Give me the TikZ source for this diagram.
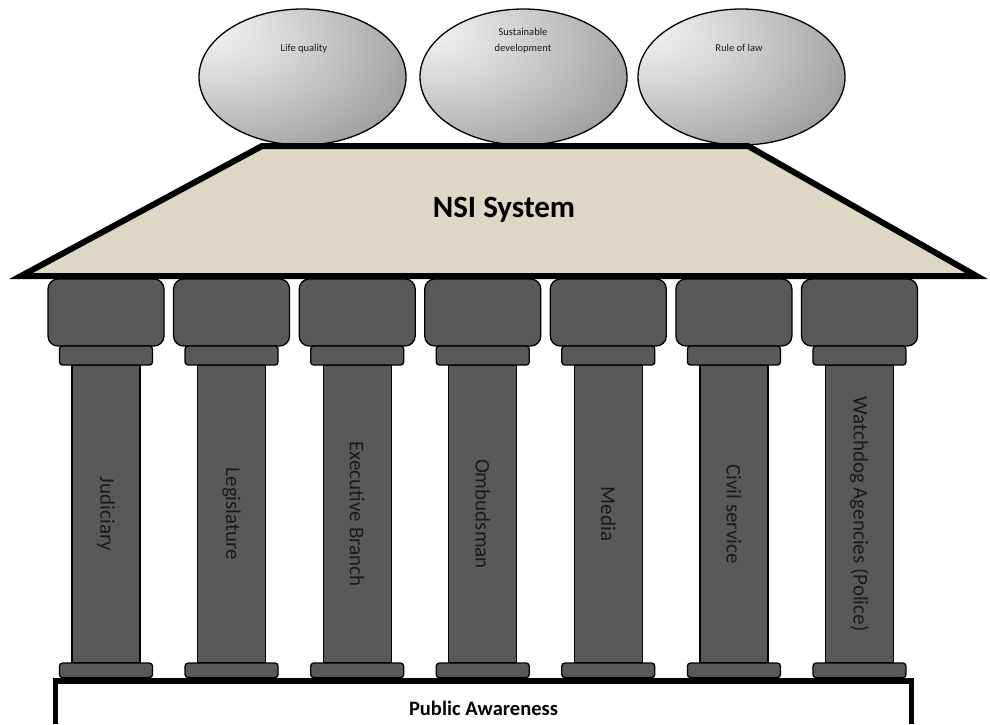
\documentclass[tikz,border=0pt]{standalone}
\usepackage{fontspec}
\setmainfont{Carlito}
\usetikzlibrary{shapes.geometric}
\definecolor{roof}{HTML}{DDD8C3}
\definecolor{colgray}{HTML}{595959}
\definecolor{labtext}{HTML}{1A1A1A}
\pgfdeclareradialshading{ellshade}{\pgfpoint{-24bp}{18bp}}{color(0bp)=(white!96!black); color(18bp)=(white!83!black); color(42bp)=(white!63!black); color(62bp)=(white!46!black); color(100bp)=(white!42!black)}
\tikzset{
  bubble/.style={ellipse, draw=black, line width=1.3pt, shading=ellshade, minimum width=207pt, minimum height=136pt, inner sep=0pt},
  bubbletext/.style={font=\fontsize{10.5}{16}\selectfont, text=labtext, align=center, anchor=base},
  capital/.style={draw=black, fill=colgray, line width=1.3pt, rounded corners=10pt, minimum width=116pt, minimum height=67pt, inner sep=0pt},
  ring/.style={draw=black, fill=colgray, line width=1.3pt, rounded corners=3pt, minimum width=93pt, inner sep=0pt},
  shaftbox/.style={draw=black, fill=colgray, line width=1.3pt, minimum width=68pt, minimum height=298pt, inner sep=0pt},
  pillartext/.style={rotate=-90, font=\fontsize{21}{25}\selectfont, text=labtext, inner sep=0pt},
}
\begin{document}
\begin{tikzpicture}[x=1pt, y=-1pt]
\useasboundingbox (0,0) rectangle (990,724);
% goals
\node[bubble] (e1) at (302.5,77) {};
\node[bubble] (e2) at (523.5,77) {};
\node[bubble] (e3) at (741.5,77) {};
\node[bubbletext] (t1) at (304,51.5) {Life quality};
\node[bubbletext] (t2) at (523,51) {Sustainable\\development};
\node[bubbletext] (t3) at (739,51) {Rule of law};
% roof
\coordinate (rTL) at (262,146);
\coordinate (rTR) at (748,146);
\coordinate (rBR) at (976.5,276);
\coordinate (rBL) at (21,276);
\draw[line width=6pt, fill=roof] (rTL) -- (rTR) -- (rBR) -- (rBL) -- cycle;
\node[font=\bfseries\fontsize{31}{36}\selectfont, anchor=base] (nsi) at (504,217) {NSI System};
% pillars
\foreach \i/\lab in {0/Judiciary,1/Legislature,2/Executive Branch,3/Ombudsman,4/Media,5/Civil service,6/Watchdog Agencies (Police)} {
  \pgfmathsetmacro{\cx}{106+125.58*\i}
  \node[shaftbox] (shaft\i) at (\cx,514) {};
  \node[capital] (cap\i) at (\cx,312.5) {};
  \node[ring, minimum height=19pt] (abacus\i) at (\cx,355.5) {};
  \node[ring, minimum height=14.5pt] (base\i) at (\cx,670.3) {};
  \node[pillartext] (lab\i) at (shaft\i.center) {\lab};
}
% foundation
\coordinate (pSW) at (55.5,724);
\coordinate (pNW) at (55.5,681);
\coordinate (pNE) at (911.5,681);
\coordinate (pSE) at (911.5,724);
\fill[white] (pNW) rectangle (pSE);
\draw[line width=5.5pt] (pSW) -- (pNW) -- (pNE) -- (pSE);
\node[font=\bfseries\fontsize{20.5}{24}\selectfont, anchor=base] (pa) at (483.5,715) {Public Awareness};
\end{tikzpicture}
\end{document}
